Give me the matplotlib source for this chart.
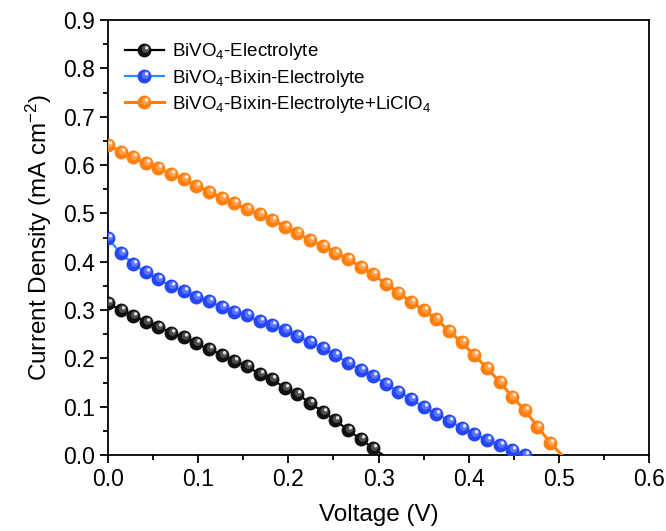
import numpy as np
import matplotlib
matplotlib.use('Agg')
import matplotlib.pyplot as plt
from matplotlib.path import Path
from matplotlib.markers import MarkerStyle
from matplotlib.legend_handler import HandlerTuple
from matplotlib.colors import to_rgb

plt.rcParams['font.family'] = ['Liberation Sans', 'DejaVu Sans']
plt.rcParams['mathtext.default'] = 'regular'

# Curvas J-V (passo de 0.014 V, ultimo ponto = fim da linha sem marcador)
passo = 0.014

y_bivo4 = [0.314, 0.300, 0.288, 0.276, 0.266, 0.252, 0.244, 0.231, 0.219, 0.208,
           0.195, 0.184, 0.168, 0.157, 0.139, 0.126, 0.108, 0.090, 0.072, 0.052,
           0.033, 0.014]
fim_bivo4 = (0.305, 0.0)

y_bixin = [0.449, 0.418, 0.396, 0.378, 0.364, 0.349, 0.340, 0.328, 0.318, 0.307,
           0.297, 0.289, 0.277, 0.270, 0.259, 0.246, 0.234, 0.221, 0.208, 0.191,
           0.177, 0.164, 0.148, 0.131, 0.116, 0.099, 0.086, 0.071, 0.057, 0.043,
           0.032, 0.021, 0.010, 0.001]
fim_bixin = (0.465, 0.0)

y_licl = [0.642, 0.628, 0.616, 0.604, 0.594, 0.582, 0.571, 0.557, 0.545, 0.533,
          0.521, 0.509, 0.498, 0.487, 0.473, 0.459, 0.445, 0.433, 0.419, 0.406,
          0.390, 0.374, 0.355, 0.336, 0.317, 0.300, 0.281, 0.257, 0.233, 0.207,
          0.180, 0.152, 0.121, 0.093, 0.059, 0.026]
fim_licl = (0.503, 0.0)

rotulos = ['BiVO$_4$-Electrolyte',
           'BiVO$_4$-Bixin-Electrolyte',
           'BiVO$_4$-Bixin-Electrolyte+LiClO$_4$']


def bolinha(cx, cy, r):
    # circulo deslocado; os MOVETO em (-1,-1) e (1,1) fixam a escala do marcador
    circ = Path.circle((cx, cy), r)
    verts = np.vstack([[-1, -1], [1, 1], circ.vertices])
    codes = np.concatenate([[Path.MOVETO, Path.MOVETO], circ.codes])
    return MarkerStyle(Path(verts, codes))


def clarear(cor, f):
    c = np.array(to_rgb(cor))
    return tuple(c + (1 - c) * f)


brilho1 = bolinha(0.15, 0.2, 0.55)
brilho2 = bolinha(0.3, 0.38, 0.25)

fig = plt.figure(figsize=(6.66, 5.31), dpi=100)
ax = fig.add_axes([0.162, 0.143, 0.813, 0.819])

series = [
    (y_bivo4, fim_bivo4, '#000000', '#111111', 1.6),
    (y_bixin, fim_bixin, '#1E90FF', '#2446F5', 1.6),
    (y_licl, fim_licl, '#FF7F0E', '#FF7F0E', 2.2),
]

handles = []
for ys, fim, cor_linha, cor_marc, lw in series:
    x = list(np.arange(len(ys)) * passo) + [fim[0]]
    y = list(ys) + [fim[1]]
    n = len(ys)
    l1, = ax.plot(x, y, '-', color=cor_linha, lw=lw, marker='o', ms=10,
                  mfc=cor_marc, mec='none', markevery=slice(0, n), zorder=3)
    l2, = ax.plot(x[:n], y[:n], ls='none', marker=brilho1, ms=10,
                  mfc=clarear(cor_marc, 0.25), mec='none', zorder=4)
    l3, = ax.plot(x[:n], y[:n], ls='none', marker=brilho2, ms=10,
                  mfc=clarear(cor_marc, 0.85), mec='none', zorder=5)
    handles.append((l1, l2, l3))

ax.set_xlim(0, 0.6)
ax.set_ylim(0, 0.9)
ax.set_xticks(np.arange(0, 0.61, 0.1))
ax.set_yticks(np.arange(0, 0.91, 0.1))
ax.set_xticks(np.arange(0.05, 0.6, 0.1), minor=True)
ax.set_yticks(np.arange(0.05, 0.9, 0.1), minor=True)
ax.xaxis.set_major_formatter(plt.FormatStrFormatter('%.1f'))
ax.yaxis.set_major_formatter(plt.FormatStrFormatter('%.1f'))
ax.tick_params(which='major', direction='out', length=6, width=1.3, labelsize=16.5)
ax.tick_params(which='minor', direction='out', length=3.5, width=1.3)
for s in ax.spines.values():
    s.set_linewidth(1.3)

ax.set_xlabel('Voltage (V)', fontsize=17.5, labelpad=9)
ax.set_ylabel('Current Density (mA cm$^{-2}$)', fontsize=17.5, labelpad=6)

ax.legend(handles, rotulos, handler_map={tuple: HandlerTuple(ndivide=1, pad=0)},
          loc='upper left', frameon=False, fontsize=13.5, handlelength=2.1,
          handletextpad=0.4, labelspacing=0.28, borderaxespad=0.5,
          bbox_to_anchor=(0.0, 0.99))

plt.savefig('out.png', dpi=100)
